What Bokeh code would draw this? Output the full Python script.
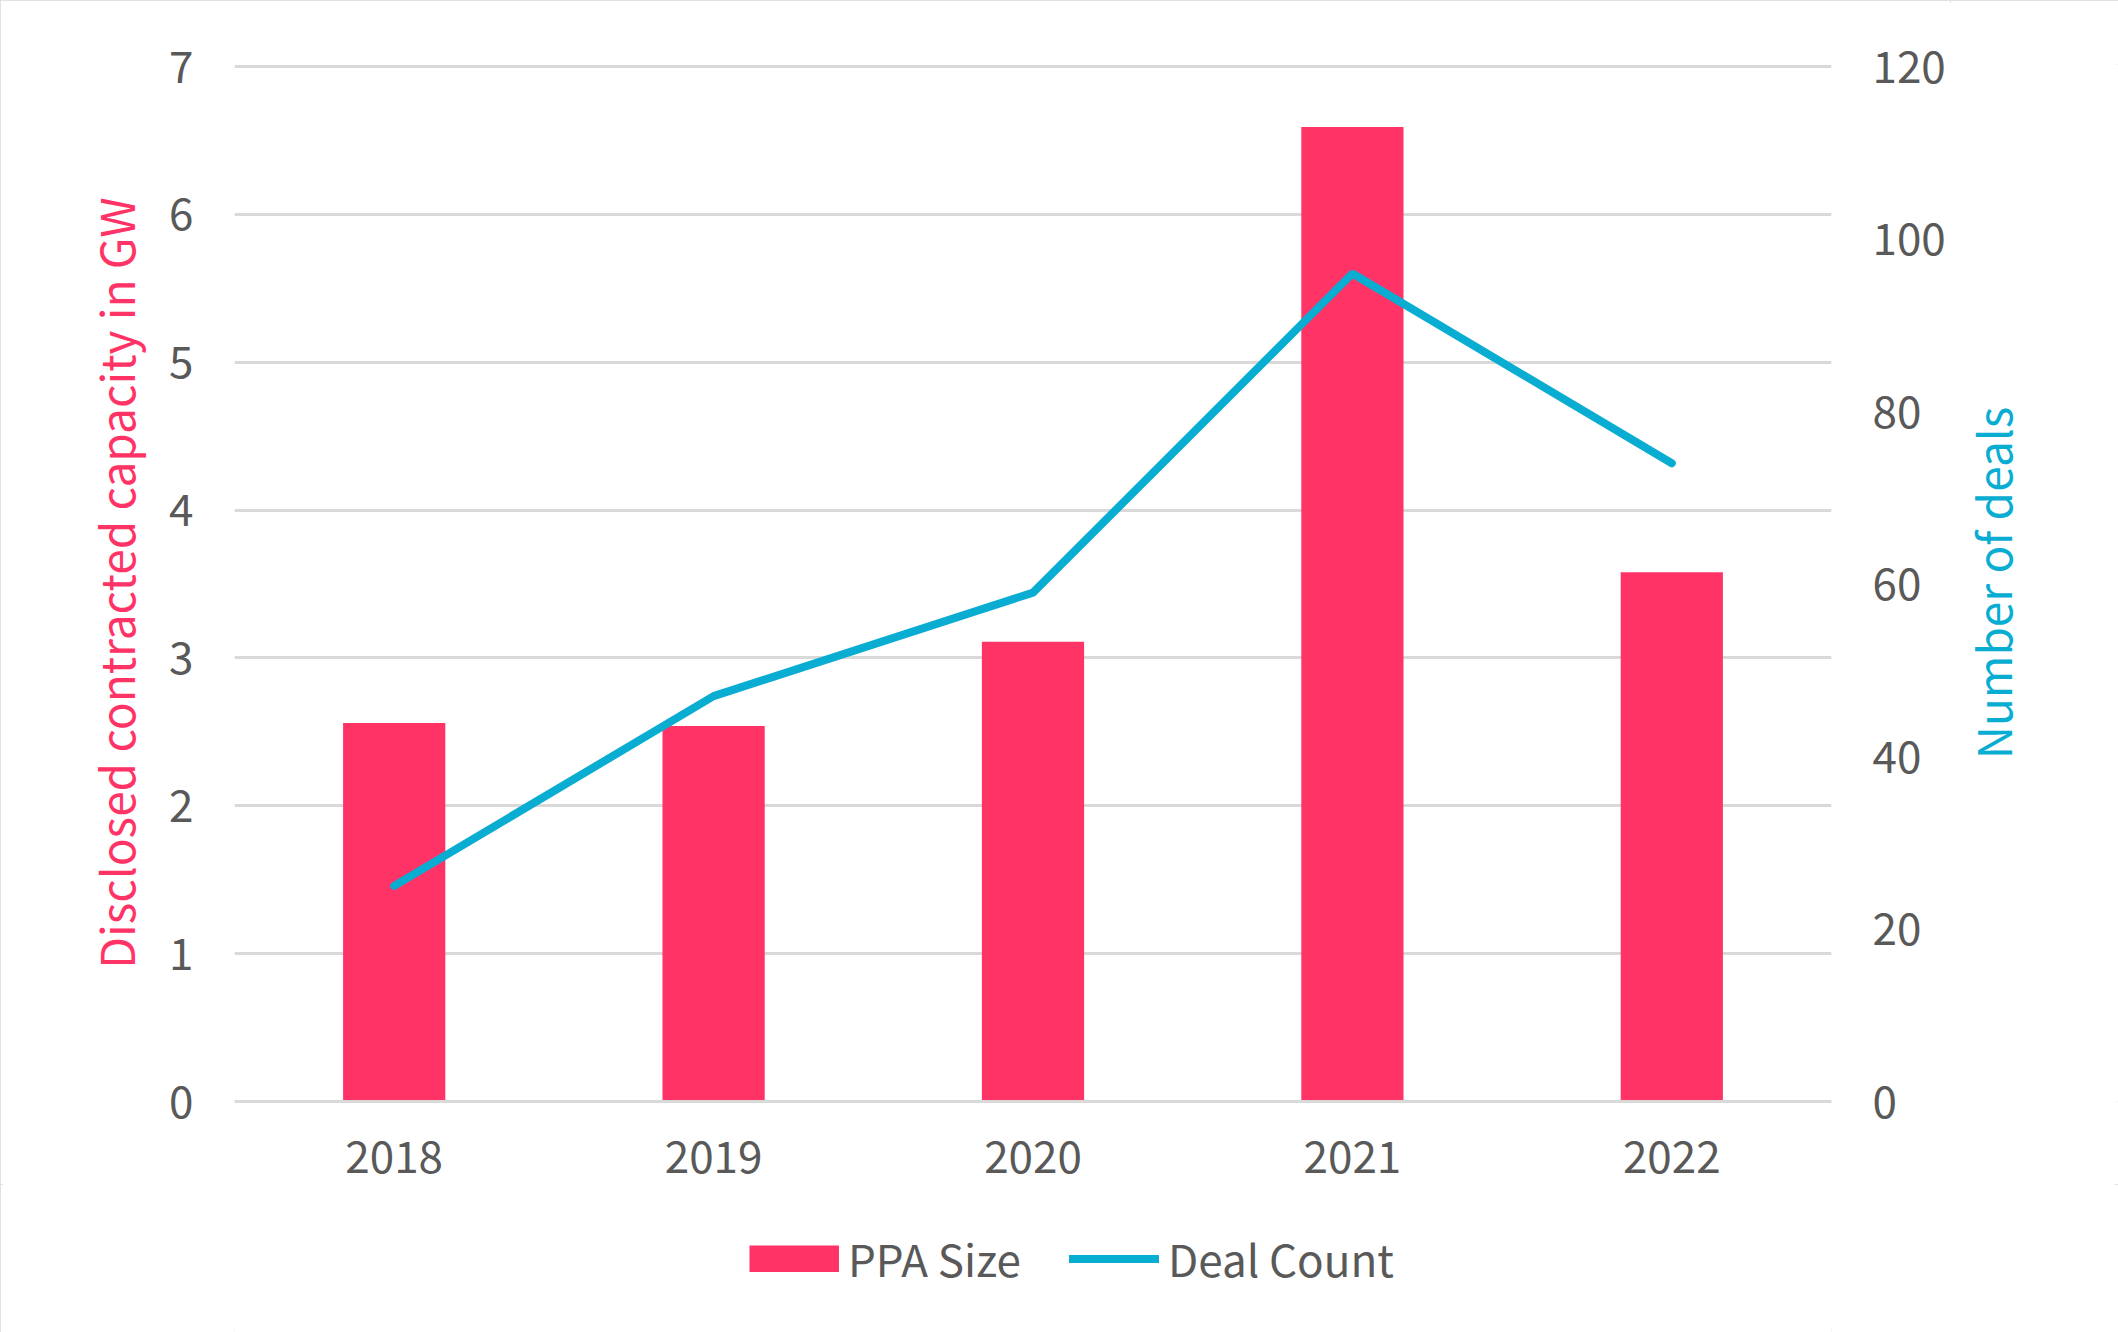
from bokeh.plotting import figure
from bokeh.layouts import column, row
from bokeh.models import (Range1d, LinearAxis, FactorRange, Legend, LegendItem,
                          FixedTicker, ColumnDataSource)
from bokeh.embed import file_html
from bokeh.resources import INLINE

# ---- data ----
years = ["2018", "2019", "2020", "2021", "2022"]
ppa_size_gw = [2.56, 2.54, 3.11, 6.59, 3.58]
deal_count = [25, 47, 59, 96, 74]
left_ticks = [0, 1, 2, 3, 4, 5, 6, 7]
right_ticks = [0, 20, 40, 60, 80, 100, 120]
series_names = ["PPA Size", "Deal Count"]
left_title = "Disclosed contracted capacity in GW"
right_title = "Number of deals"

FONT = "Noto Sans CJK JP"
PINK = "#FF3366"
CYAN = "#0AADD2"
GRAY_TXT = "#595959"
GRID = "#D9D9D9"

W = 2118
W_MAIN = 1950
H_MAIN = 1184
H_LEG = 1332 - H_MAIN
PAD = 2                      # a little room above the top gridline
FRAME_H = 1035
TOP = 66 - PAD
BOT = H_MAIN - 1101
stretch = (FRAME_H + PAD) / FRAME_H

p = figure(x_range=FactorRange(*years),
           y_range=Range1d(0, left_ticks[-1] * stretch),
           width=W_MAIN, height=H_MAIN, output_backend="svg", toolbar_location=None,
           min_border_left=234, min_border_right=W_MAIN - 1831, min_border_top=TOP,
           min_border_bottom=BOT)
p.extra_y_ranges = {"deals": Range1d(0, right_ticks[-1] * stretch)}
p.outline_line_color = None

src = ColumnDataSource(dict(year=years, gw=ppa_size_gw, deals=deal_count))
bars = p.vbar(x="year", top="gw", width=0.32, source=src,
              fill_color=PINK, line_color=None)
line = p.line(x="year", y="deals", source=src, y_range_name="deals",
              line_color=CYAN, line_width=8, line_cap="round")

# left axis
ya = p.yaxis[0]
ya.ticker = FixedTicker(ticks=left_ticks)
ya.axis_label = left_title
ya.axis_label_text_color = PINK
ya.axis_label_text_font = FONT
ya.axis_label_text_font_size = "46px"
ya.axis_label_text_font_style = "normal"
ya.axis_label_standoff = 18

# right axis (tick labels only; its title is drawn by the strip on the right)
ra = LinearAxis(y_range_name="deals", ticker=FixedTicker(ticks=right_ticks))
p.add_layout(ra, "right")

for ax in (ya, ra):
    ax.axis_line_color = None
    ax.major_tick_line_color = None
    ax.minor_tick_line_color = None
    ax.major_label_text_color = GRAY_TXT
    ax.major_label_text_font = FONT
    ax.major_label_text_font_size = "44px"
    ax.major_label_standoff = 35

xa = p.xaxis[0]
xa.axis_line_color = GRID
xa.axis_line_width = 3
xa.major_tick_line_color = None
xa.minor_tick_line_color = None
xa.major_label_text_color = GRAY_TXT
xa.major_label_text_font = FONT
xa.major_label_text_font_size = "44px"
xa.major_label_standoff = 33

p.xgrid.grid_line_color = None
p.ygrid.grid_line_color = GRID
p.ygrid.grid_line_width = 3

# ---- right strip carrying the right-hand axis title (reads bottom to top) ----
rf = figure(width=W - W_MAIN, height=H_MAIN, output_backend="svg",
            toolbar_location=None, x_range=Range1d(0, 1), y_range=Range1d(0, 1),
            min_border_left=74, min_border_right=0, min_border_top=TOP,
            min_border_bottom=BOT)
rf.xaxis.visible = False
rf.grid.visible = False
rf.outline_line_color = None
ry = rf.yaxis[0]
ry.ticker = FixedTicker(ticks=[])
ry.axis_line_color = None
ry.major_tick_line_color = None
ry.minor_tick_line_color = None
ry.major_tick_out = 0
ry.major_label_standoff = 0
ry.axis_label = right_title
ry.axis_label_text_color = CYAN
ry.axis_label_text_font = FONT
ry.axis_label_text_font_size = "46px"
ry.axis_label_text_font_style = "normal"
ry.axis_label_standoff = 0

# ---- legend strip ----
lf = figure(width=W, height=H_LEG, output_backend="svg", toolbar_location=None,
            x_range=Range1d(0, 1), y_range=Range1d(0, 1),
            min_border_left=234, min_border_right=W - 1831,
            min_border_top=0, min_border_bottom=0)
lf.axis.visible = False
lf.grid.visible = False
lf.outline_line_color = None
# legend swatches only: these renderers lie outside the strip's visible range
dummy = ColumnDataSource(dict(x=[-10.0, -11.0], y=[-10.0, -10.0]))
lbar = lf.line(x="x", y="y", source=dummy, line_color=PINK,
               line_width=27, line_cap="butt")
lline = lf.line(x="x", y="y", source=dummy, line_color=CYAN,
                line_width=8, line_cap="round")

legend = Legend(items=[LegendItem(label=series_names[0], renderers=[lbar]),
                       LegendItem(label=series_names[1], renderers=[lline])],
                location="left", orientation="horizontal",
                glyph_width=90, glyph_height=27, label_height=27,
                label_standoff=9, spacing=48, padding=0, margin=515,
                border_line_color=None, background_fill_alpha=0,
                label_text_font=FONT, label_text_font_size="44px",
                label_text_color=GRAY_TXT)
lf.add_layout(legend)

layout = column(row(p, rf, spacing=0), lf, spacing=0)
layout.styles = {"outline": "3px solid #D9D9D9", "outline-offset": "-3px"}

open("out.html", "w").write(file_html(layout, INLINE))
